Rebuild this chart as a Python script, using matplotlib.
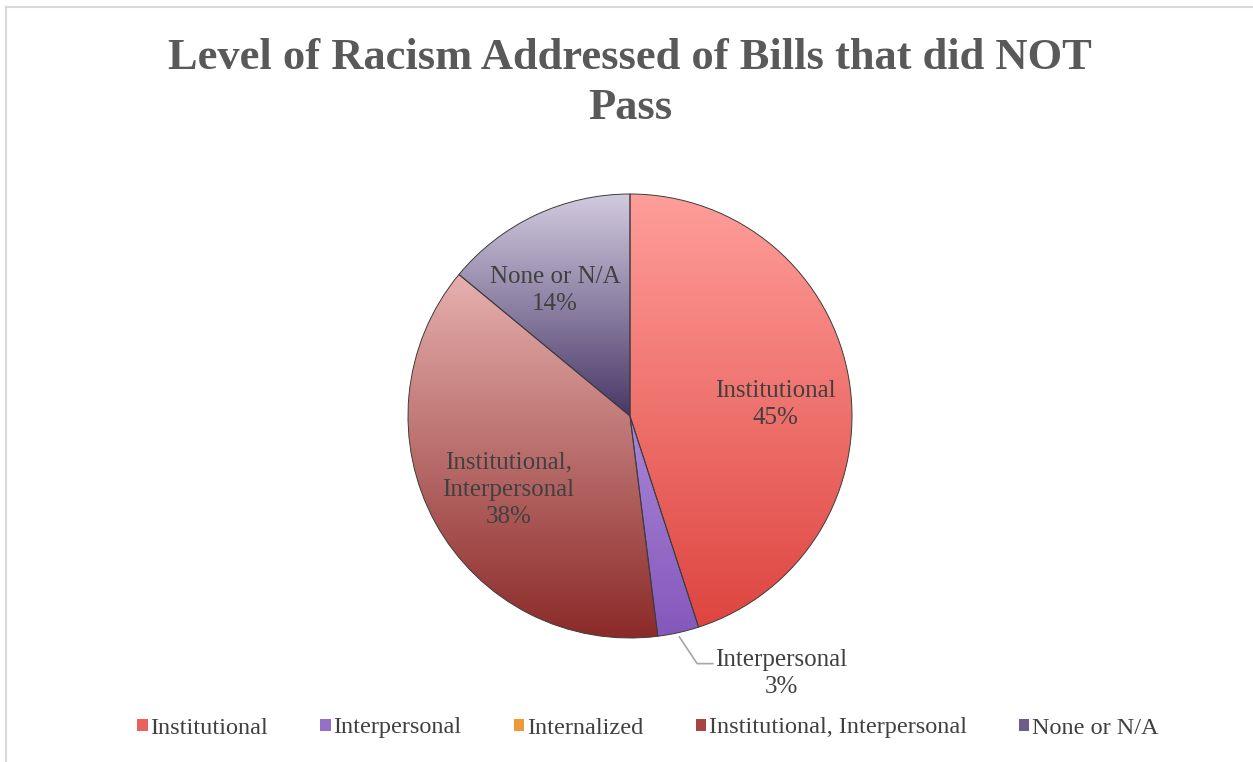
import matplotlib
matplotlib.use("Agg")
import matplotlib.pyplot as plt
import numpy as np
from matplotlib.colors import LinearSegmentedColormap
from matplotlib.patches import Patch
from matplotlib.lines import Line2D

# data
categories = ['Institutional', 'Interpersonal', 'Internalized',
              'Institutional, Interpersonal', 'None or N/A']
shares = [45, 3, 0, 38, 14]
pie_labels = ['Institutional\n45%', 'Interpersonal\n3%', '',
              'Institutional,\nInterpersonal\n38%', 'None or N/A\n14%']

# gradient colours per slice (top, bottom)
top_cols = ['#FF9E9A', '#A986D6', '#F7B060', '#E6B0AE', '#D2CADF']
bot_cols = ['#DE4540', '#8458BC', '#E0841E', '#8A2927', '#483868']
legend_cols = ['#E9615C', '#9470C8', '#EE9838', '#A84442', '#6C5C8C']

# label placement inside slices: (radius, angle nudge in degrees)
label_pos = {'Institutional': (0.655, -4.6),
             'Institutional, Interpersonal': (0.64, 2.4),
             'None or N/A': (0.66, 5.6)}

plt.rcParams['font.family'] = ['Liberation Serif', 'DejaVu Serif']
text_col = '#404040'

fig = plt.figure(figsize=(12.53, 7.62), dpi=100)
fig.patch.set_facecolor('white')

# chart border (only top and left visible)
fig.add_artist(Line2D([6 / 1253, 1], [1 - 7 / 762, 1 - 7 / 762], transform=fig.transFigure,
                      color='#D9D9D9', lw=1.5))
fig.add_artist(Line2D([6 / 1253, 6 / 1253], [0, 1 - 7 / 762], transform=fig.transFigure,
                      color='#D9D9D9', lw=1.5))

fig.text(630 / 1253, 1 - 83 / 762, 'Level of Racism Addressed of Bills that did NOT\nPass',
         ha='center', va='center', fontsize=32, fontweight='bold', color='#595959',
         linespacing=1.3)

r_px = 222
cx, cy = 630, 416
ax = fig.add_axes([(cx - r_px) / 1253, (762 - cy - r_px) / 762, 2 * r_px / 1253, 2 * r_px / 762])
ax.set_xlim(-1, 1)
ax.set_ylim(-1, 1)
ax.set_aspect('equal')
ax.axis('off')

wedges, _ = ax.pie(shares, startangle=90, counterclock=False, radius=1,
                   colors=legend_cols,
                   wedgeprops=dict(edgecolor='#3C3C3C', linewidth=0.7))

for i, w in enumerate(wedges):
    if shares[i] == 0:
        continue
    path = w.get_patch_transform().transform_path(w.get_path())
    v = path.vertices
    x0, y0 = v.min(axis=0)
    x1, y1 = v.max(axis=0)
    cmap = LinearSegmentedColormap.from_list('g%d' % i, [bot_cols[i], top_cols[i]])
    grad = np.linspace(0, 1, 256).reshape(-1, 1)
    im = ax.imshow(grad, cmap=cmap, extent=[x0, x1, y0, y1], origin='lower',
                   aspect='auto', zorder=w.get_zorder() + 0.1, interpolation='bilinear')
    im.set_clip_path(w)
    w.set_facecolor('none')
    w.set_zorder(w.get_zorder() + 0.2)

ax.set_xlim(-1, 1)
ax.set_ylim(-1, 1)

# data labels
for i, w in enumerate(wedges):
    if shares[i] == 0:
        continue
    mid = np.deg2rad((w.theta1 + w.theta2) / 2)
    if categories[i] == 'Interpersonal':
        ex, ey = np.cos(mid), np.sin(mid)
        ex, ey = ex * 1.02, ey * 1.02
        kx, ky = ex + 0.08, ey - 0.12
        ax.plot([ex, kx, kx + 0.07], [ey, ky, ky], color='#A6A6A6', lw=1.2,
                clip_on=False, zorder=5)
        ax.text(kx + 0.08, ky - 0.045, pie_labels[i], ha='left', va='center',
                fontsize=18, color=text_col, linespacing=1.3, multialignment='center')
    else:
        rr, nudge = label_pos[categories[i]]
        ang = mid + np.deg2rad(nudge)
        ax.text(rr * np.cos(ang), rr * np.sin(ang), pie_labels[i], ha='center', va='center',
                fontsize=18, color=text_col, linespacing=1.3, zorder=6)

handles = [Patch(facecolor=c, edgecolor='none') for c in legend_cols]
fig.legend(handles, categories, loc='center', bbox_to_anchor=(648 / 1253, 1 - 728 / 762),
           ncol=5, frameon=False, fontsize=17.5, handlelength=0.42, handleheight=0.42,
           handletextpad=0.12, columnspacing=2.15, labelcolor=text_col)

fig.savefig('out.png', dpi=100, facecolor='white')
